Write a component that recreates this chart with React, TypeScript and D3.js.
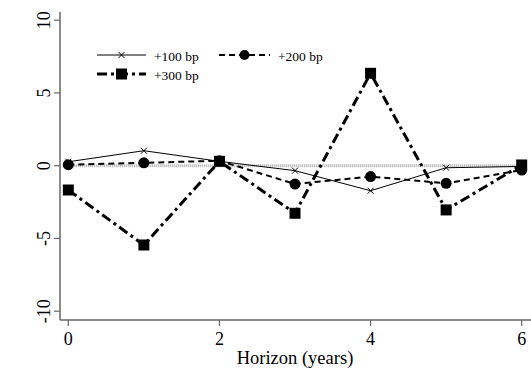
import React from "react";
import * as d3 from "d3";

const horizons = [0, 1, 2, 3, 4, 5, 6];
const bp100 = [0.27, 1.03, 0.3, -0.34, -1.72, -0.14, -0.05];
const bp200 = [0.07, 0.2, 0.34, -1.26, -0.75, -1.21, -0.3];
const bp300 = [-1.67, -5.45, 0.3, -3.27, 6.35, -3.04, 0.05];
const xTicks = [0, 2, 4, 6];
const yTicks = [-10, -5, 0, 5, 10];
const seriesNames = ["+100 bp", "+200 bp", "+300 bp"];

export default function App() {
  const W = 531, H = 372;
  const x = d3.scaleLinear().domain([0, 6]).range([68.3, 521.7]);
  const y = d3.scaleLinear().domain([-10, 10]).range([311.2, 20.2]);
  const line = d3.line<number>().x((_, i) => x(horizons[i])).y((d) => y(d));
  const font = "Liberation Serif, Times New Roman, Times, DejaVu Serif, serif";
  const axisColor = "#666";

  const cross = (cx: number, cy: number, s: number, key: string) => (
    <path key={key} d={`M${cx - s},${cy - s}L${cx + s},${cy + s}M${cx - s},${cy + s}L${cx + s},${cy - s}`} stroke="#000" strokeWidth={1} />
  );

  return (
    <svg width={W} height={H} style={{ position: "absolute", left: 0, top: 0, background: "#fff", fontFamily: font }}>
      {/* axes */}
      <line x1={60} x2={60} y1={12} y2={320} stroke={axisColor} strokeWidth={1.5} />
      <line x1={60} x2={531} y1={320} y2={320} stroke={axisColor} strokeWidth={1.5} />
      {yTicks.map((t) => (
        <g key={"y" + t}>
          <line x1={54} x2={60} y1={y(t)} y2={y(t)} stroke={axisColor} strokeWidth={1.2} />
          <text transform={`translate(49.5,${y(t)}) rotate(-90)`} textAnchor="middle" style={{ fontFamily: font }} fontSize={18} fill="#000">{t}</text>
        </g>
      ))}
      {xTicks.map((t) => (
        <g key={"x" + t}>
          <line x1={x(t)} x2={x(t)} y1={320} y2={326} stroke={axisColor} strokeWidth={1.2} />
          <text x={x(t)} y={345} textAnchor="middle" style={{ fontFamily: font }} fontSize={18} fill="#000">{t}</text>
        </g>
      ))}
      <text x={295} y={364} textAnchor="middle" style={{ fontFamily: font }} fontSize={18.5} fill="#000">Horizon (years)</text>

      {/* zero line */}
      <line x1={x(0)} x2={x(6)} y1={y(0)} y2={y(0)} stroke="#aaa" strokeWidth={3} strokeDasharray="1,1" />

      {/* +100 */}
      <path d={line(bp100) || ""} fill="none" stroke="#000" strokeWidth={1} />
      {bp100.map((v, i) => cross(x(horizons[i]), y(v), 3, "c" + i))}

      {/* +200 */}
      <path d={line(bp200) || ""} fill="none" stroke="#000" strokeWidth={2} strokeDasharray="6,4" />
      {bp200.map((v, i) => <circle key={"o" + i} cx={x(horizons[i])} cy={y(v)} r={5.5} fill="#000" />)}

      {/* +300 */}
      <path d={line(bp300) || ""} fill="none" stroke="#000" strokeWidth={3} strokeDasharray="10,4,3,4" />
      {bp300.map((v, i) => <rect key={"s" + i} x={x(horizons[i]) - 5.5} y={y(v) - 5.5} width={11} height={11} fill="#000" />)}

      {/* legend */}
      <line x1={97} x2={146} y1={55} y2={55} stroke="#000" strokeWidth={1} />
      {cross(121.5, 55, 3, "lc")}
      <text x={154} y={61} style={{ fontFamily: font }} fontSize={13.5}>{seriesNames[0]}</text>

      <line x1={219} x2={270} y1={55} y2={55} stroke="#000" strokeWidth={2} strokeDasharray="6,4" />
      <circle cx={244.5} cy={55} r={5} fill="#000" />
      <text x={278} y={61} style={{ fontFamily: font }} fontSize={13.5}>{seriesNames[1]}</text>

      <line x1={97} x2={146} y1={74} y2={74} stroke="#000" strokeWidth={3} strokeDasharray="10,4,3,4" />
      <rect x={116} y={68.5} width={11} height={11} fill="#000" />
      <text x={154} y={80} style={{ fontFamily: font }} fontSize={13.5}>{seriesNames[2]}</text>
    </svg>
  );
}
